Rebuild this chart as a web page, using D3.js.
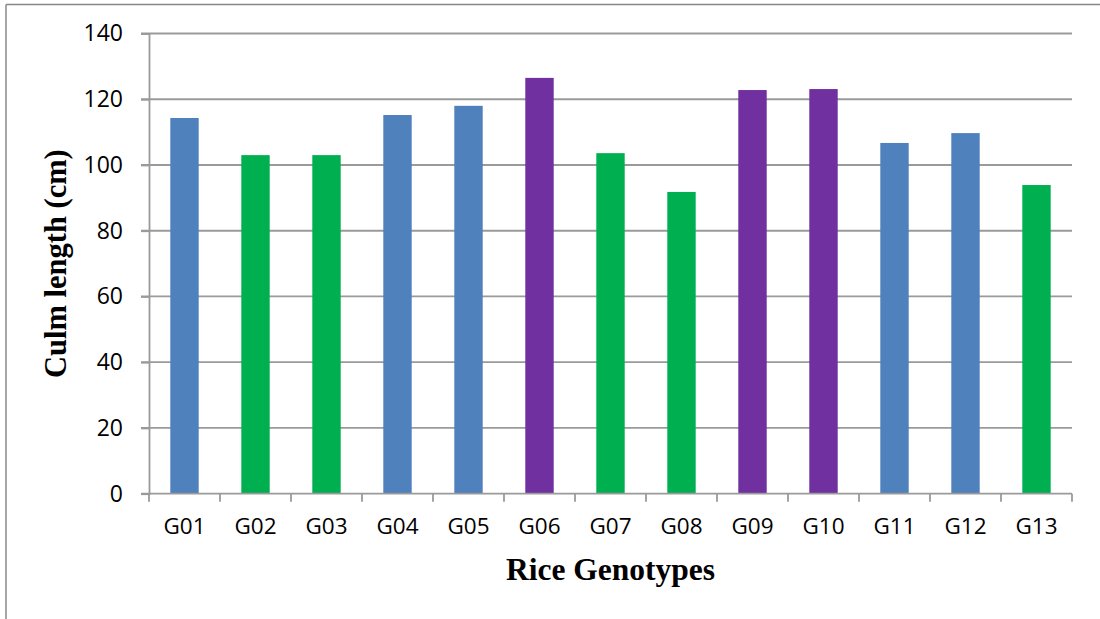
<!DOCTYPE html>
<html><head><meta charset="utf-8">
<script src="https://cdn.jsdelivr.net/npm/d3@7/dist/d3.min.js"></script>
<style>body{margin:0;background:#fff}svg{display:block}</style>
</head><body>
<svg id="c" width="1100" height="619"></svg>
<script>
const categories = ["G01","G02","G03","G04","G05","G06","G07","G08","G09","G10","G11","G12","G13"];
const values = [114.3,103.0,103.0,115.2,118.0,126.5,103.6,91.8,122.8,123.1,106.7,109.7,93.9];
const groups = ["blue","green","green","blue","blue","purple","green","green","purple","purple","blue","blue","green"];
const yTicks = [0,20,40,60,80,100,120,140];
const colorMap = {blue:"#4f81bd", green:"#00b050", purple:"#7030a0"};

(function(){
const svg = d3.select("#c");
const mLeft = 149, mRight = 1072, mTop = 33.5, mBottom = 493.7;

// outer border
svg.append("line").attr("x1",6).attr("x2",1100).attr("y1",4.5).attr("y2",4.5).attr("stroke","#888").attr("stroke-width",1.5);
svg.append("line").attr("x1",6).attr("x2",6).attr("y1",4.5).attr("y2",619).attr("stroke","#888").attr("stroke-width",1.5);

const x = d3.scaleBand().domain(categories).range([mLeft,mRight]).paddingInner(0.6).paddingOuter(0.3);
const y = d3.scaleLinear().domain([0,140]).range([mBottom,mTop]);

// grid
svg.append("g").selectAll("line").data(yTicks.filter(d=>d>0)).join("line")
  .attr("x1",mLeft-8).attr("x2",mRight).attr("y1",d=>y(d)).attr("y2",d=>y(d))
  .attr("stroke","#9a9a9a").attr("stroke-width",1.8);

// y axis
const ya = svg.append("g").attr("transform",`translate(${mLeft},0)`)
  .call(d3.axisLeft(y).tickValues(yTicks).tickSize(8).tickPadding(18));
ya.select(".domain").attr("stroke","#9a9a9a").attr("stroke-width",1.8);
ya.selectAll(".tick line").attr("stroke","#9a9a9a").attr("stroke-width",1.8);
ya.selectAll("text").attr("font-family","'Open Sans', Carlito, sans-serif").attr("font-size",23).attr("fill","#000");

// bars
svg.append("g").selectAll("rect").data(categories).join("rect")
  .attr("x",d=>x(d)).attr("width",x.bandwidth())
  .attr("y",(d,i)=>y(values[i])).attr("height",(d,i)=>y(0)-y(values[i]))
  .attr("fill",(d,i)=>colorMap[groups[i]]);

// x axis
const xa = svg.append("g").attr("transform",`translate(0,${mBottom})`)
  .call(d3.axisBottom(x).tickSize(0).tickPadding(24));
xa.select(".domain").remove();
svg.append("line").attr("x1",mLeft-8).attr("x2",mRight).attr("y1",mBottom).attr("y2",mBottom).attr("stroke","#9a9a9a").attr("stroke-width",1.8);
const step = (mRight-mLeft)/categories.length;
svg.append("g").selectAll("line").data(d3.range(categories.length+1)).join("line")
  .attr("x1",i=>mLeft+i*step).attr("x2",i=>mLeft+i*step).attr("y1",mBottom).attr("y2",mBottom+8)
  .attr("stroke","#9a9a9a").attr("stroke-width",1.8);
xa.selectAll("text").attr("font-family","'Open Sans', Carlito, sans-serif").attr("font-size",22.5).attr("fill","#000");

// titles
svg.append("text").attr("x",(mLeft+mRight)/2).attr("y",580).attr("text-anchor","middle")
  .attr("font-family","'Liberation Serif', 'Times New Roman', serif").attr("font-weight","bold").attr("font-size",31.5)
  .text("Rice Genotypes");
svg.append("text").attr("transform",`translate(66,${(mTop+mBottom)/2}) rotate(-90)`).attr("text-anchor","middle")
  .attr("font-family","'Liberation Serif', 'Times New Roman', serif").attr("font-weight","bold").attr("font-size",30.5)
  .text("Culm length (cm)");
})();
</script>
</body></html>
